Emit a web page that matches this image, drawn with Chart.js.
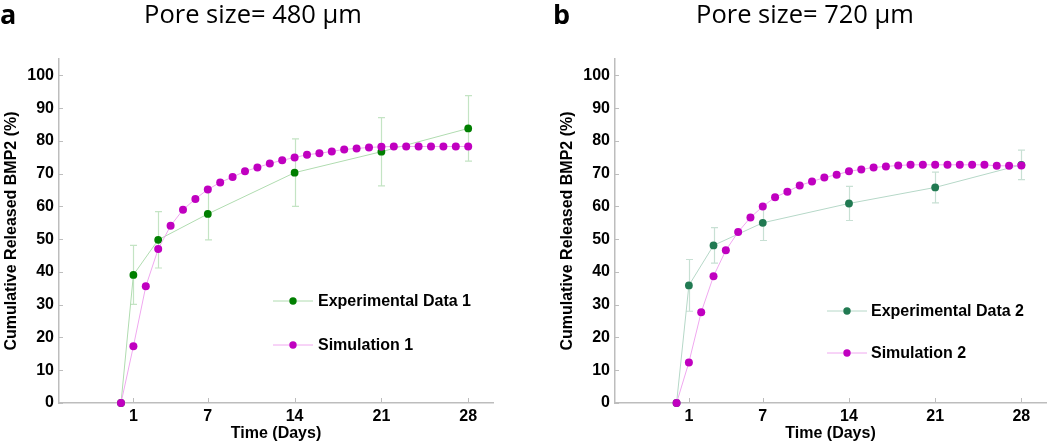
<!DOCTYPE html>
<html><head><meta charset="utf-8">
<script src="https://cdn.jsdelivr.net/npm/chart.js@4.4.1/dist/chart.umd.min.js"></script>
<style>
html,body{margin:0;padding:0;background:#fff;width:1050px;height:444px;overflow:hidden;}
.wrap{position:absolute;top:0;width:525px;height:444px;}
.title{position:absolute;top:1px;width:400px;text-align:center;font-family:"Open Sans",sans-serif;font-size:25.5px;line-height:25px;color:#000;white-space:nowrap;}
.panel{position:absolute;top:0;font-family:"Open Sans",sans-serif;font-weight:bold;font-size:27px;line-height:28px;color:#000;}
</style></head><body>
<div class="wrap" style="left:0"><canvas id="c1" width="525" height="444"></canvas></div>
<div class="wrap" style="left:525px"><canvas id="c2" width="525" height="444"></canvas></div>
<div class="panel" style="left:0px">a</div>
<div class="title" style="left:53px">Pore size= 480 µm</div>
<div class="panel" style="left:553px">b</div>
<div class="title" style="left:605px">Pore size= 720 µm</div>
<script>
// ---- data ----
const simDays = [0,1,2,3,4,5,6,7,8,9,10,11,12,13,14,15,16,17,18,19,20,21,22,23,24,25,26,27,28];
const expDays = [0,1,3,7,14,21,28];
const xTickVals = [1,7,14,21,28];
const yTickVals = [0,10,20,30,40,50,60,70,80,90,100];

const exp1 = [0,39.1,49.8,57.7,70.3,76.7,83.8];
const exp1Err = [0,9.0,8.6,7.9,10.3,10.4,10.0];
const sim1 = [0,17.3,35.6,47.0,54.1,59.0,62.3,65.2,67.3,69.0,70.7,71.9,73.1,74.1,74.9,75.8,76.2,76.8,77.4,77.7,78.0,78.2,78.3,78.3,78.3,78.3,78.3,78.3,78.3];

const exp2 = [0,35.9,48.1,55.0,60.9,65.8,72.7];
const exp2Err = [0,7.9,5.4,5.4,5.2,4.7,4.5];
const sim2 = [0,12.4,27.7,38.7,46.6,52.2,56.6,60.0,62.8,64.5,66.4,67.6,68.8,69.7,70.7,71.3,71.9,72.2,72.5,72.7,72.7,72.7,72.7,72.7,72.7,72.7,72.4,72.4,72.5];

const labels1 = ['Experimental Data 1','Simulation 1'];
const labels2 = ['Experimental Data 2','Simulation 2'];

// ---- chart setup ----
Chart.defaults.font.family = '"Liberation Sans", Arial, sans-serif';
Chart.defaults.font.size = 16;
Chart.defaults.font.weight = 'bold';
Chart.defaults.color = '#000';

const AXIS = '#bdbdbd';

const errPlugin = {
  id: 'errbars',
  beforeDatasetsDraw(chart, args, o) {
    const ctx = chart.ctx, xs = chart.scales.x, ys = chart.scales.y;
    ctx.save();
    ctx.strokeStyle = o.color; ctx.lineWidth = 1.2;
    o.xs.forEach((d, i) => {
      const e = o.err[i]; if (!e) return;
      const px = Math.round(xs.getPixelForValue(d)) + 0.5;
      const t = ys.getPixelForValue(o.ys[i] + e), b = ys.getPixelForValue(o.ys[i] - e);
      ctx.beginPath();
      ctx.moveTo(px, t); ctx.lineTo(px, b);
      ctx.moveTo(px - 3.5, t); ctx.lineTo(px + 3.5, t);
      ctx.moveTo(px - 3.5, b); ctx.lineTo(px + 3.5, b);
      ctx.stroke();
    });
    ctx.restore();
  }
};

const tickPlugin = {
  id: 'inticks',
  afterDraw(chart) {
    const ctx = chart.ctx, xs = chart.scales.x, ys = chart.scales.y, a = chart.chartArea;
    ctx.save(); ctx.strokeStyle = AXIS; ctx.lineWidth = 1;
    ctx.beginPath();
    xTickVals.forEach(v => { const p = Math.round(xs.getPixelForValue(v)) + 0.5; ctx.moveTo(p, a.bottom); ctx.lineTo(p, a.bottom - 5); });
    yTickVals.forEach(v => { const p = Math.round(ys.getPixelForValue(v)) + 0.5; ctx.moveTo(a.left, p); ctx.lineTo(a.left + 4, p); });
    ctx.stroke(); ctx.restore();
  }
};

const legPlugin = {
  id: 'leg',
  afterDraw(chart, args, o) {
    const ctx = chart.ctx;
    ctx.save();
    chart.data.datasets.forEach((ds, i) => {
      const y = o.ys[i];
      ctx.strokeStyle = ds.borderColor; ctx.lineWidth = 1;
      ctx.beginPath(); ctx.moveTo(o.x1, y); ctx.lineTo(o.x2, y); ctx.stroke();
      ctx.fillStyle = ds.pointBackgroundColor;
      ctx.beginPath(); ctx.arc((o.x1 + o.x2) / 2, y, 3.7, 0, Math.PI * 2); ctx.fill();
      ctx.fillStyle = '#000'; ctx.font = 'bold 16px "Liberation Sans", Arial, sans-serif';
      ctx.textBaseline = 'middle'; ctx.textAlign = 'left';
      ctx.fillText(ds.label, o.tx, y + 1);
    });
    ctx.restore();
  }
};

function build(id, exp, err, sim, labs, c, padL, padR, leg) {
  return new Chart(document.getElementById(id), {
    type: 'line',
    data: {
      datasets: [
        { label: labs[0], data: expDays.map((d, i) => ({x: d, y: exp[i]})), order: 1,
          borderColor: c.expLine, borderWidth: 1, pointBackgroundColor: c.exp, pointBorderColor: c.exp,
          pointRadius: 3.9, pointBorderWidth: 0, clip: false, tension: 0 },
        { label: labs[1], data: simDays.map((d, i) => ({x: d, y: sim[i]})), order: 0,
          borderColor: '#f0a8f0', borderWidth: 1, pointBackgroundColor: '#c000c0', pointBorderColor: '#c000c0',
          pointRadius: 4, pointBorderWidth: 0, clip: false, tension: 0 }
      ]
    },
    options: {
      responsive: false, animation: false, devicePixelRatio: 1,
      layout: { padding: { top: 59, right: padR, left: padL, bottom: 0 } },
      plugins: {
        legend: { display: false }, tooltip: { enabled: false },
        errbars: { xs: expDays, ys: exp, err: err, color: c.err },
        leg: leg
      },
      scales: {
        x: { type: 'linear', min: -5, max: 30,
          afterBuildTicks: s => { s.ticks = xTickVals.map(v => ({value: v})); },
          afterFit: s => { s.height = 41; },
          grid: { display: false, drawTicks: false },
          border: { display: true, color: AXIS, width: 1.5 },
          ticks: { padding: 4, autoSkip: false, maxRotation: 0, font: { size: 16, weight: 'bold' }, color: '#000' },
          title: { display: true, text: 'Time (Days)', padding: { top: 0, bottom: 1 }, font: { size: 16, weight: 'bold' }, color: '#000' } },
        y: { type: 'linear', min: 0, max: 105,
          afterBuildTicks: s => { s.ticks = yTickVals.map(v => ({value: v})); },
          afterFit: s => { s.width = 59; },
          grid: { display: false, drawTicks: false },
          border: { display: true, color: AXIS, width: 1.5 },
          ticks: { padding: 5, font: { size: 16, weight: 'bold' }, color: '#000' },
          title: { display: true, text: 'Cumulative Released BMP2 (%)', padding: { top: 2, bottom: 0 }, font: { size: 16, weight: 'bold' }, color: '#000' } }
      }
    },
    plugins: [errPlugin, tickPlugin, legPlugin]
  });
}

build('c1', exp1, exp1Err, sim1, labels1, { exp: '#007f00', expLine: '#b0dcb0', err: '#c4e4c4' }, 0, 32,
  { x1: 273, x2: 313, tx: 318, ys: [301, 345] });
build('c2', exp2, exp2Err, sim2, labels2, { exp: '#217a52', expLine: '#b6d8c8', err: '#c8e0d4' }, 31, 1,
  { x1: 302, x2: 342, tx: 346, ys: [311, 353] });
</script>
</body></html>
